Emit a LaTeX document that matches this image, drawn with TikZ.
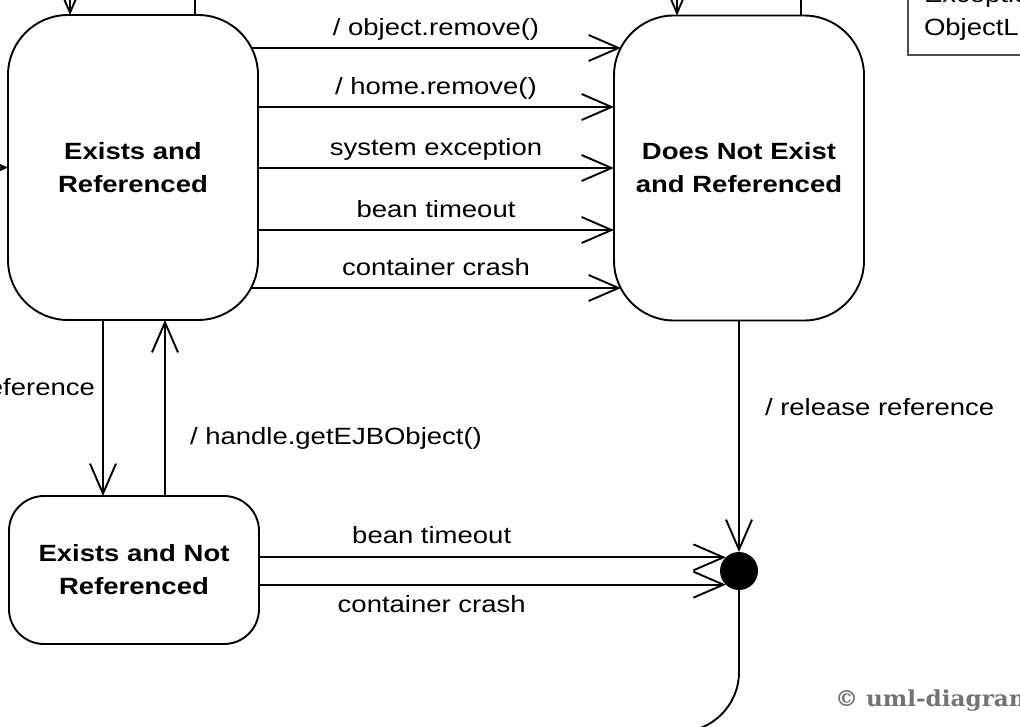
\documentclass[tikz,border=0pt]{standalone}
\usepackage{fontspec}
\setmainfont{Liberation Sans}[FakeStretch=1.17]
\newfontfamily\wmfont{DejaVu Serif}[FakeStretch=1.05]
\usepackage{tikz}
\tikzset{
  every node/.style = {
    inner sep = 0pt,
    outer sep = 0pt
  }
}
\usetikzlibrary{
arrows.meta,
positioning
}

\begin{document}
\begin{tikzpicture}[
        x = 1pt,
        y = -1pt,
        line width = 1.9pt,
        every node/.append style={
          font = \fontsize{23.5}{33}\selectfont,
        },
        state/.style={
          draw,
          rounded corners = 60pt,
          minimum width = 250pt,
          minimum height = 305pt,
          align = center,
          font = \fontsize{23.5}{33}\selectfont\bfseries,
        },
        small state/.style={
          state,
          rounded corners = 35pt,
          minimum height = 148pt,
        },
        final/.style={
          circle,
          fill,
          minimum size = 38pt,
        },
        trans/.style={
          -{Straight Barb[length=30pt, width=26pt]},
        },
        note/.style={
          draw = black!70,
          text width = 200pt,
          align = left,
          inner xsep = 16pt,
          inner ysep = 15pt,
        },
        ]
        \useasboundingbox (0,0) rectangle (1020,726);
        \clip (0,0) rectangle (1020,726);
        % states
        \node [state] (exref) at (133,167.5) {Exists and\\Referenced};
        \node [state] (noexref) at (739,168) {Does Not Exist\\and Referenced};
        \node [small state] (exnoref) at (134,570) {Exists and Not\\Referenced};
        \node [final] (fin) at (739,571) {};
        \coordinate (entry) at (-60,168);
        \coordinate (exit) at (560,732);
        % note and watermark
        \node [note, anchor=south west] (hint) at (908,55) {Exception\\ObjectLocal};
        \node [anchor=base west, text=black!55,
          font=\fontsize{22}{24}\wmfont\bfseries] (copy) at (835,706)
        {© uml-diagrams.org};
        % transitions from exists and referenced
        \draw [trans] (entry) -- (exref.west);
        \draw [trans] (exref.north -| 195,0) -- (195,-60) -- (70,-60)
        -- (exref.north -| 70,0);
        \draw [trans] (noexref.north -| 801,0) -- (801,-60) -- (677,-60)
        -- (noexref.north -| 677,0);
        \draw [trans] ([xshift=-7pt]exref.east |- 0,48)
        -- node [midway, anchor=base, yshift=13pt] {/ object.remove()}
        ([xshift=7pt]noexref.west |- 0,48);
        \draw [trans] (exref.east |- 0,107)
        -- node [midway, anchor=base, yshift=13pt] {/ home.remove()}
        (noexref.west |- 0,107);
        \draw [trans] (exref.east |- 0,168)
        -- node [midway, anchor=base, yshift=13pt] {system exception}
        (noexref.west |- 0,168);
        \draw [trans] (exref.east |- 0,230)
        -- node [midway, anchor=base, yshift=13pt] {bean timeout}
        (noexref.west |- 0,230);
        \draw [trans] ([xshift=-7pt]exref.east |- 0,288)
        -- node [midway, anchor=base, yshift=13pt] {container crash}
        ([xshift=7pt]noexref.west |- 0,288);
        \draw [trans] (exref.south -| 103,0)
        -- node [pos=0.43, anchor=base east, xshift=-8pt] {release reference}
        (exnoref.north -| 103,0);
        \draw [trans] (exnoref.north -| 165,0)
        -- node [pos=0.29, anchor=base west, xshift=25pt] {/ handle.getEJBObject()}
        (exref.south -| 165,0);
        % transitions to the final state
        \draw [trans] (noexref.south)
        -- node [pos=0.41, anchor=base west, xshift=26pt] {/ release reference}
        (fin.north);
        \draw [trans] (exnoref.east |- fin.134)
        -- node [pos=0.37, anchor=base, yshift=14pt] {bean timeout}
        (fin.134);
        \draw [trans] (exnoref.east |- fin.226)
        -- node [pos=0.37, anchor=base, yshift=-28pt] {container crash}
        (fin.226);
        \draw (fin.south) -- (739,672) arc [start angle=0, end angle=90, radius=60]
        -- (exit);
      \end{tikzpicture}
\end{document}
